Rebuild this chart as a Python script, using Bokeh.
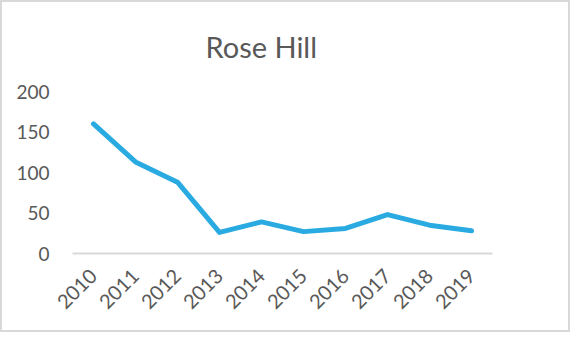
from bokeh.plotting import figure
from bokeh.models import Range1d, Title
from bokeh.embed import file_html
from bokeh.resources import INLINE
import math

years = ["2010", "2011", "2012", "2013", "2014", "2015", "2016", "2017", "2018", "2019"]
values = [160, 113, 88, 26, 39, 27, 31, 48, 35, 28]
y_ticks = [0, 50, 100, 150, 200]
title_text = "Rose Hill"

FONT = "Lato"
GRAY = "#595959"

p = figure(width=570, height=332, x_range=years, y_range=Range1d(0, 200),
           output_backend="svg", toolbar_location=None,
           min_border_left=70, min_border_right=80, min_border_top=88, min_border_bottom=81)
p.outline_line_color = None
p.border_fill_color = "white"
p.styles = {"border": "2px solid #d9d9d9", "box-sizing": "border-box"}

t = Title(text=title_text, align="left", offset=133, vertical_align="top",
          text_font=FONT, text_font_size="29px", text_font_style="normal",
          text_color=GRAY, standoff=52)
p.add_layout(t, "above")

p.line(years, values, line_color="#29ABE2", line_width=5, line_join="round", line_cap="round")

p.xgrid.grid_line_color = None
p.ygrid.grid_line_color = None

p.xaxis.axis_line_color = "#d9d9d9"
p.xaxis.axis_line_width = 2
p.xaxis.major_tick_line_color = None
p.xaxis.minor_tick_line_color = None
p.xaxis.major_label_orientation = math.pi / 4
p.xaxis.major_label_text_font = FONT
p.xaxis.major_label_text_font_size = "20px"
p.xaxis.major_label_text_color = GRAY
p.xaxis.major_label_standoff = 13

p.yaxis.ticker = y_ticks
p.yaxis.axis_line_color = None
p.yaxis.major_tick_line_color = None
p.yaxis.minor_tick_line_color = None
p.yaxis.major_label_text_font = FONT
p.yaxis.major_label_text_font_size = "19px"
p.yaxis.major_label_text_color = GRAY
p.yaxis.major_label_standoff = 17

open("out.html", "w").write(file_html(p, INLINE))
